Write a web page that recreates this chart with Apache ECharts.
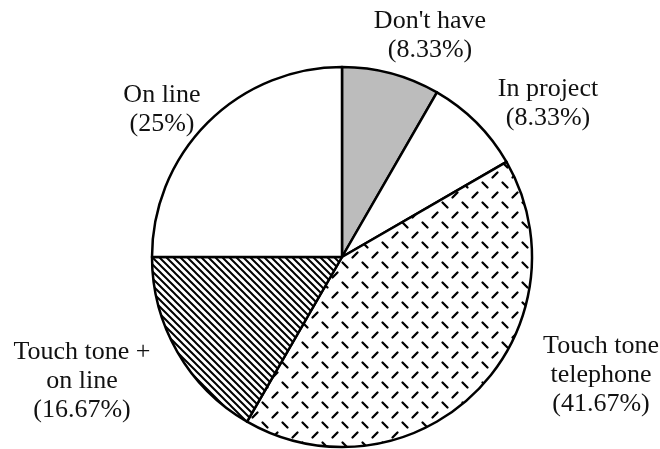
<!DOCTYPE html>
<html>
<head>
<meta charset="utf-8">
<script src="https://cdn.jsdelivr.net/npm/echarts@6/dist/echarts.min.js"></script>
<style>
html,body{margin:0;padding:0;background:#fff;}
#chart{width:660px;height:449px;}
</style>
</head>
<body>
<div id="chart"></div>
<script>
// Data (clockwise from 12 o'clock)
const categories = ["Don't have", "In project", "Touch tone\ntelephone", "Touch tone +\non line", "On line"];
const percentValues = [8.33, 8.33, 41.67, 16.67, 25];

// Label anchor positions (layout only)
const labelPos = [[430, 36], [548, 104], [601, 375], [82, 381], [162, 110]];

function makeHatch() {
  const c = document.createElement('canvas');
  c.width = 7; c.height = 7;
  const g = c.getContext('2d');
  g.fillStyle = '#fff'; g.fillRect(0, 0, 7, 7);
  g.strokeStyle = '#000'; g.lineWidth = 2;
  g.beginPath();
  g.moveTo(-1, -1); g.lineTo(8, 8);
  g.moveTo(-1, 6); g.lineTo(1, 8);
  g.moveTo(6, -1); g.lineTo(8, 1);
  g.stroke();
  return c;
}
function makeDash() {
  const c = document.createElement('canvas');
  c.width = 20; c.height = 20;
  const g = c.getContext('2d');
  g.fillStyle = '#fff'; g.fillRect(0, 0, 20, 20);
  g.strokeStyle = '#000'; g.lineWidth = 2.3; g.lineCap = 'round';
  g.beginPath();
  g.moveTo(2.5, 2.5); g.lineTo(7.5, 7.5);
  g.moveTo(12.5, 17.5); g.lineTo(17.5, 12.5);
  g.stroke();
  return c;
}

const fills = ['#bcbcbc', '#ffffff', {image: makeDash(), repeat: 'repeat'}, {image: makeHatch(), repeat: 'repeat'}, '#ffffff'];

const chart = echarts.init(document.getElementById('chart'), null, {renderer: 'canvas'});
chart.setOption({
  backgroundColor: '#fff',
  animation: false,
  series: [{
    type: 'pie',
    center: [342, 257],
    radius: 190,
    startAngle: 90,
    clockwise: true,
    avoidLabelOverlap: false,
    data: categories.map((n, i) => ({
      name: n, value: percentValues[i],
      itemStyle: {color: fills[i]}
    })),
    itemStyle: {borderColor: '#000', borderWidth: 2.5},
    label: {
      show: true,
      position: 'outside',
      formatter: p => p.name + '\n(' + p.value + '%)',
      fontFamily: 'Liberation Serif',
      fontSize: 26,
      lineHeight: 29,
      color: '#111',
      align: 'center'
    },
    labelLine: {show: false},
    labelLayout: p => ({
      x: labelPos[p.dataIndex][0],
      y: labelPos[p.dataIndex][1],
      align: 'center',
      verticalAlign: 'middle'
    }),
    emphasis: {disabled: true}
  }]
});
</script>
</body>
</html>
